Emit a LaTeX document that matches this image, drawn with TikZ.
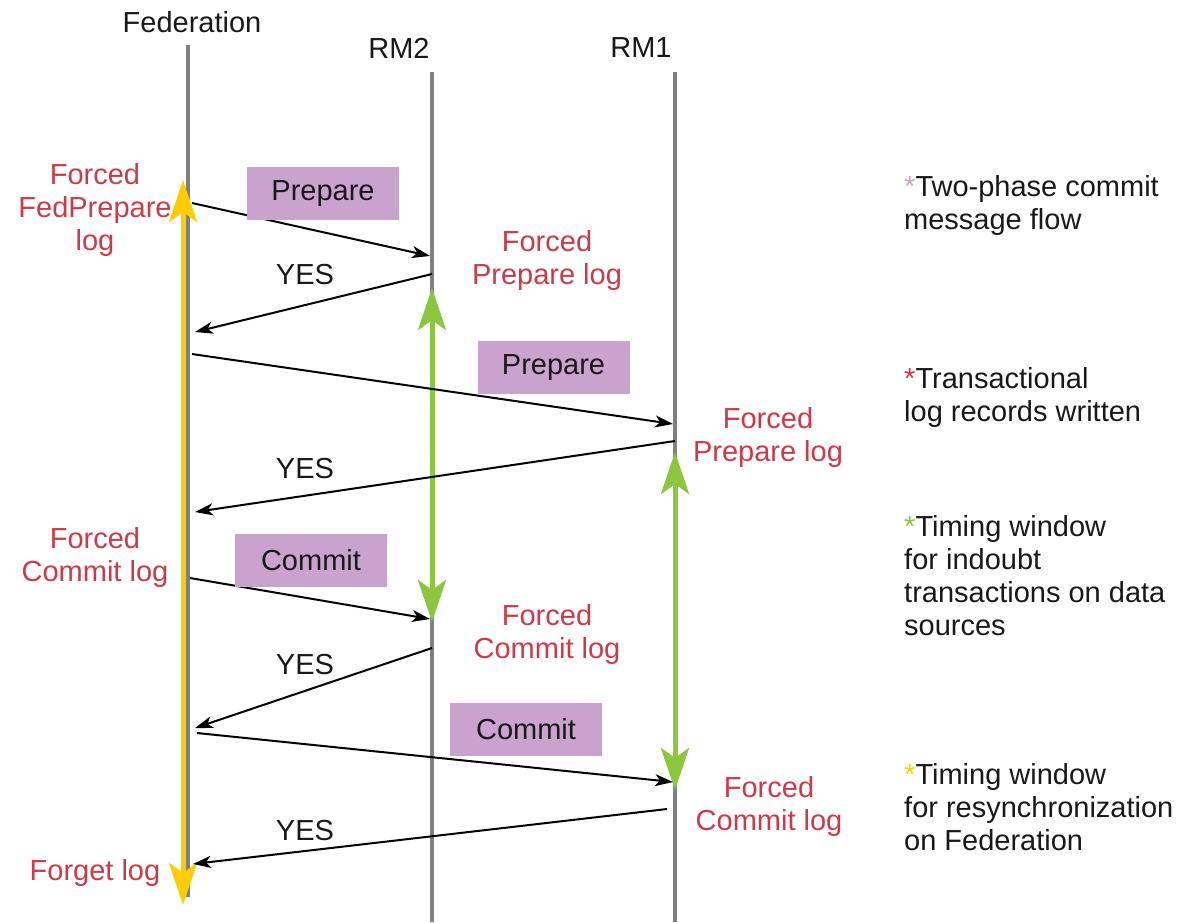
\documentclass[tikz,border=0pt]{standalone}
\usepackage{fontspec}
\setmainfont{Liberation Sans}
\usetikzlibrary{arrows.meta}
\definecolor{lilac}{RGB}{201,163,206}
\definecolor{logred}{RGB}{208,56,70}
\definecolor{lifegrey}{RGB}{128,128,128}
\definecolor{winyellow}{RGB}{255,204,0}
\definecolor{wingreen}{RGB}{138,198,62}
\definecolor{txt}{RGB}{25,25,25}
\begin{document}
\begin{tikzpicture}[x=1pt,y=-1pt,
  every node/.style={font=\fontsize{29}{33}\selectfont, inner sep=0pt, text=txt},
  lifeline/.style={draw=lifegrey, line width=4pt},
  msg/.style={draw=black, line width=2pt, -{Stealth[length=18pt,width=12pt,inset=5pt]}},
  msgbox/.style={fill=lilac, minimum width=152pt, minimum height=53pt},
  logtxt/.style={text=logred, align=center},
  legend/.style={anchor=north west, align=left},
  winarrow/.style={line width=5pt, {Stealth[length=42pt,width=28pt,inset=10pt]}-{Stealth[length=42pt,width=28pt,inset=10pt]}}
]
\useasboundingbox (0,0) rectangle (1182,922);

% participant labels
\node (fed) at (192,22) {Federation};
\node (rm2) at (399,48) {RM2};
\node (rm1) at (641,48) {RM1};

% lifelines
\coordinate (fedtop) at (188,45);
\coordinate (fedbot) at (188,897);
\coordinate (rm2top) at (432,72);
\coordinate (rm2bot) at (432,922);
\coordinate (rm1top) at (675,72);
\coordinate (rm1bot) at (675,922);
\draw[lifeline] (fedtop) -- (fedbot);
\draw[lifeline] (rm2top) -- (rm2bot);
\draw[lifeline] (rm1top) -- (rm1bot);

% timing windows
\coordinate (ya) at (183,180);
\coordinate (yb) at (183,905);
\draw[winarrow, draw=winyellow, fill=winyellow] (ya) -- (yb);
\coordinate (ga) at (432,288);
\coordinate (gb) at (432,622);
\draw[winarrow, draw=wingreen, fill=wingreen] (ga) -- (gb);
\coordinate (gc) at (675,452);
\coordinate (gd) at (675,790);
\draw[winarrow, draw=wingreen, fill=wingreen] (gc) -- (gd);

% message end points
\coordinate (p1s) at (192,203);
\coordinate (p1e) at (430,256);
\coordinate (y1s) at (432,274);
\coordinate (y1e) at (195,332);
\coordinate (p2s) at (192,354);
\coordinate (p2e) at (673,424);
\coordinate (y2s) at (675,441);
\coordinate (y2e) at (195,512);
\coordinate (c1s) at (190,578);
\coordinate (c1e) at (430,619);
\coordinate (y3s) at (432,648);
\coordinate (y3e) at (195,728);
\coordinate (c2s) at (197,733);
\coordinate (c2e) at (673,782);
\coordinate (y4s) at (667,809);
\coordinate (y4e) at (193,864);

\draw[msg] (p1s) -- (p1e);
\draw[msg] (y1s) -- (y1e);
\draw[msg] (p2s) -- (p2e);
\draw[msg] (y2s) -- (y2e);
\draw[msg] (c1s) -- (c1e);
\draw[msg] (y3s) -- (y3e);
\draw[msg] (c2s) -- (c2e);
\draw[msg] (y4s) -- (y4e);

% message boxes
\node[msgbox] (prep1) at (323,193.5) {Prepare};
\node[msgbox] (prep2) at (553.5,367.5) {Prepare};
\node[msgbox] (com1) at (311,560) {Commit};
\node[msgbox] (com2) at (526,729.5) {Commit};

% YES labels
\node (yes1) at (305,275) {YES};
\node (yes2) at (305,469) {YES};
\node (yes3) at (305,665) {YES};
\node (yes4) at (305,830) {YES};

% log labels
\node[logtxt] (fedprep) at (95,210) {Forced\\FedPrepare\\log};
\node[logtxt] (rm2prep) at (547,260.5) {Forced\\Prepare log};
\node[logtxt] (rm1prep) at (768,437.5) {Forced\\Prepare log};
\node[logtxt] (fedcom) at (95,557.5) {Forced\\Commit log};
\node[logtxt] (rm2com) at (547,634.5) {Forced\\Commit log};
\node[logtxt] (rm1com) at (769,806.5) {Forced\\Commit log};
\node[logtxt] (forget) at (95,873) {Forget log};

% legend
\node[legend] (leg1) at (904,175) {{\color{lilac}*}Two-phase commit\\message flow};
\node[legend] (leg2) at (904,367) {{\color{logred}*}Transactional\\log records written};
\node[legend] (leg3) at (904,515) {{\color{wingreen}*}Timing window\\for indoubt\\transactions on data\\sources};
\node[legend] (leg4) at (904,763) {{\color{winyellow}*}Timing window\\for resynchronization\\on Federation};
\end{tikzpicture}
\end{document}
